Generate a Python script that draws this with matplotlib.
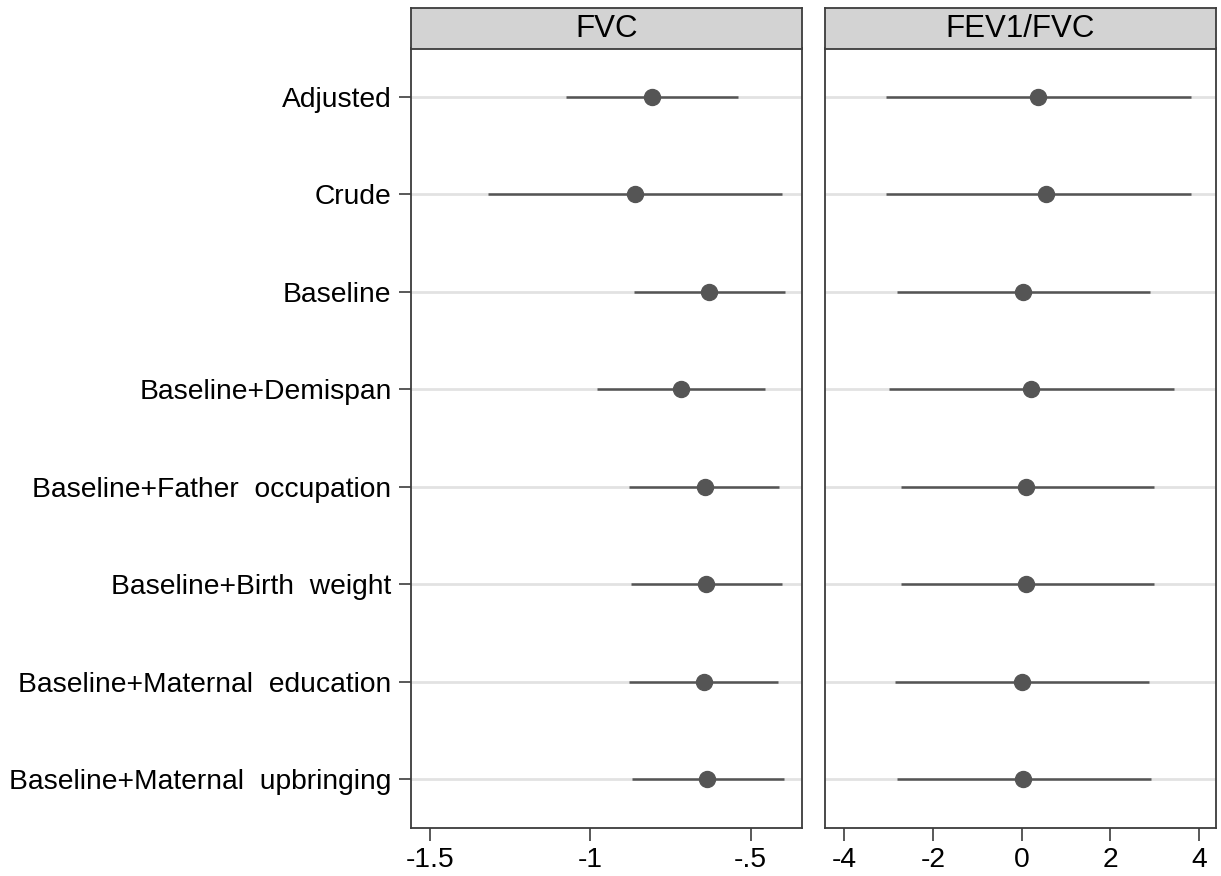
import matplotlib
matplotlib.use("Agg")
import matplotlib.pyplot as plt

plt.rcParams['font.family'] = ['Liberation Sans', 'DejaVu Sans']

# models (top to bottom)
labels = ["Adjusted", "Crude", "Baseline", "Baseline+Demispan",
          "Baseline+Father  occupation", "Baseline+Birth  weight",
          "Baseline+Maternal  education", "Baseline+Maternal  upbringing"]

# FVC estimates and 95% CI
fvc_est = [-0.807, -0.860, -0.629, -0.717, -0.642, -0.639, -0.645, -0.636]
fvc_lo = [-1.075, -1.318, -0.863, -0.978, -0.879, -0.872, -0.879, -0.869]
fvc_hi = [-0.539, -0.402, -0.393, -0.455, -0.411, -0.402, -0.414, -0.396]

# FEV1/FVC estimates and 95% CI
ratio_est = [0.38, 0.54, 0.04, 0.22, 0.11, 0.11, 0.00, 0.04]
ratio_lo = [-3.06, -3.06, -2.81, -2.99, -2.72, -2.72, -2.85, -2.81]
ratio_hi = [3.82, 3.82, 2.90, 3.44, 2.99, 2.99, 2.88, 2.92]

fvc_ticks = [-1.5, -1, -0.5]
fvc_ticklabels = ["-1.5", "-1", "-.5"]
ratio_ticks = [-4, -2, 0, 2, 4]
ratio_ticklabels = ["-4", "-2", "0", "2", "4"]

W, H = 1221, 876
fig = plt.figure(figsize=(W / 100, H / 100), dpi=100)

panels = [
    ("FVC", fvc_est, fvc_lo, fvc_hi, (-1.558, -0.340), fvc_ticks, fvc_ticklabels, 411),
    ("FEV1/FVC", ratio_est, ratio_lo, ratio_hi, (-4.43, 4.38), ratio_ticks, ratio_ticklabels, 825),
]

ypos = list(range(1, len(labels) + 1))
edge = "#3c3c3c"
mark = "#555555"

for i, (title, est, lo, hi, xlim, ticks, ticklabels, left) in enumerate(panels):
    ax = fig.add_axes([left / W, 48 / H, 391 / W, 780 / H])
    for y in ypos:
        ax.axhline(y, color="#e2e2e2", lw=2, zorder=1)
    ax.hlines(ypos, lo, hi, color=mark, lw=1.8, zorder=2)
    ax.plot(est, ypos, "o", color=mark, ms=11.5, zorder=3)
    ax.set_xlim(*xlim)
    ax.set_ylim(len(labels) + 0.5, 0.5)
    ax.set_xticks(ticks)
    ax.set_xticklabels(ticklabels)
    ax.set_yticks(ypos)
    if i == 0:
        ax.set_yticklabels(labels)
    else:
        ax.tick_params(axis="y", left=False, labelleft=False)
    ax.tick_params(axis="both", labelsize=20.3, length=9, width=1.2, color=edge, pad=5)
    for s in ax.spines.values():
        s.set_color(edge)
        s.set_linewidth(1.3)

    # facet strip
    strip = fig.add_axes([left / W, (876 - 49) / H, 391 / W, 41 / H])
    strip.set_facecolor("#d3d3d3")
    strip.set_xticks([])
    strip.set_yticks([])
    for s in strip.spines.values():
        s.set_color(edge)
        s.set_linewidth(1.3)
    strip.text(0.5, 0.48, title, ha="center", va="center", fontsize=22.5,
               transform=strip.transAxes)

fig.savefig("out.png", dpi=100)
